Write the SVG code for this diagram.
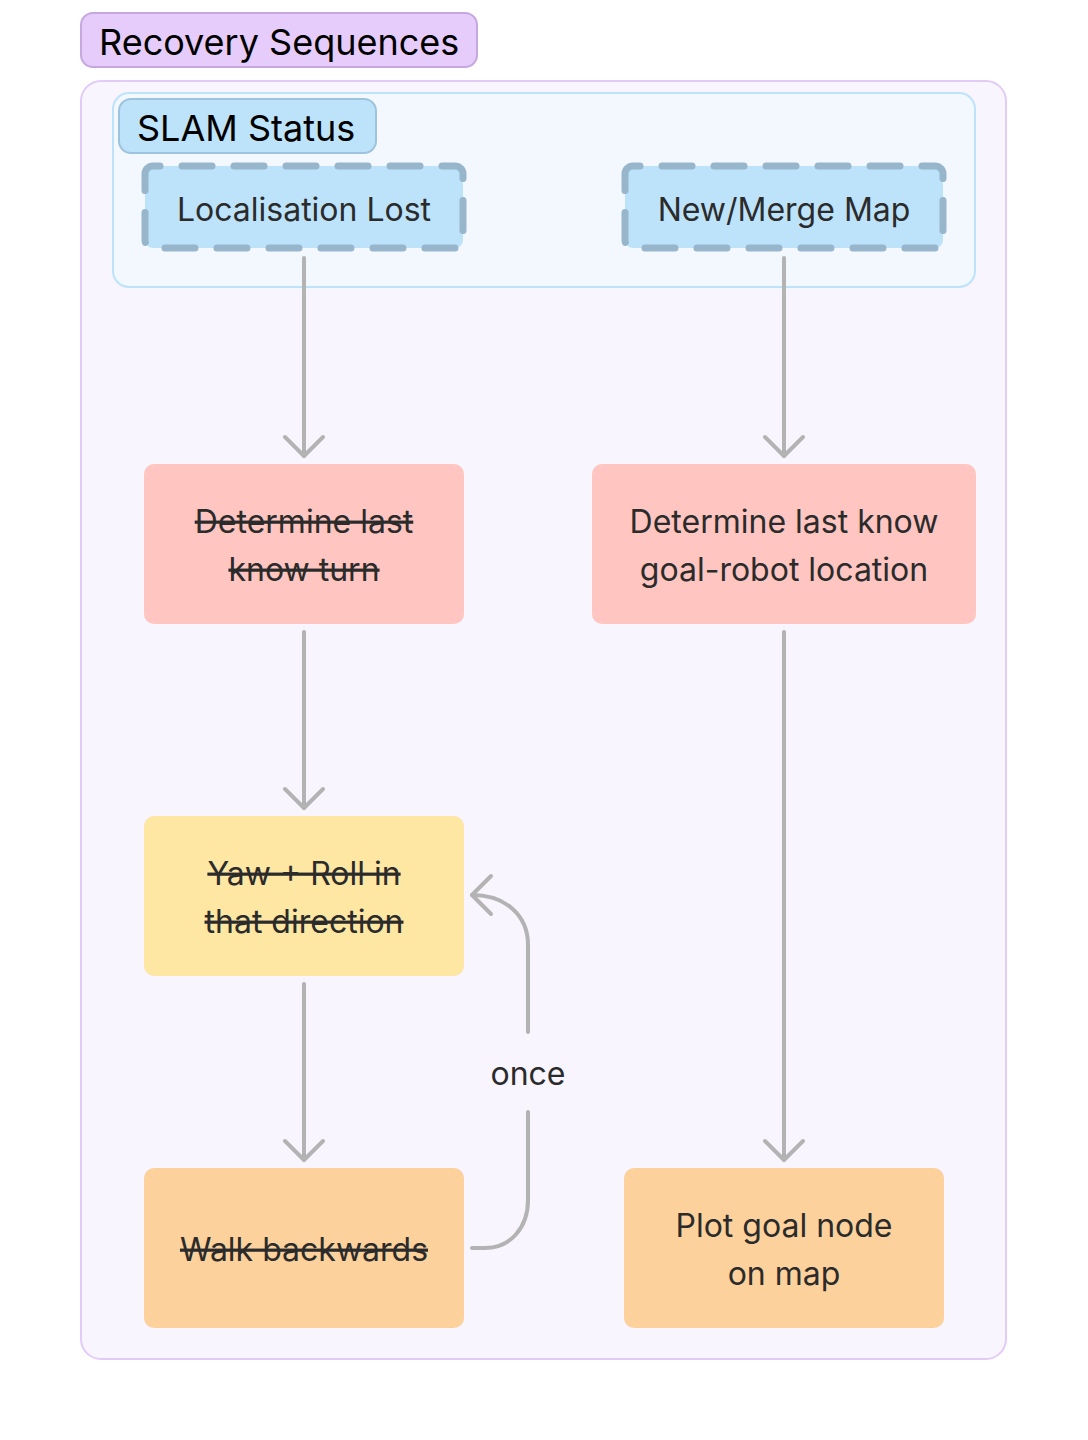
<svg xmlns="http://www.w3.org/2000/svg" width="1088" height="1440" viewBox="0 0 1088 1440">
<style>
.lbl{font-family:Inter,"Noto Sans","Liberation Sans",sans-serif;font-size:32px;fill:#2b2b2b;text-anchor:middle;dominant-baseline:central}
.strike{text-decoration:line-through}
.title{font-family:Inter,"Noto Sans","Liberation Sans",sans-serif;font-size:36px;fill:#000;dominant-baseline:central}
.edge{fill:none;stroke:#b3b3b3;stroke-width:4;stroke-linecap:round;stroke-linejoin:round}
.dash{fill:#bde3fb;stroke:#97b5cb;stroke-width:7;stroke-dasharray:30 22;stroke-dashoffset:23;stroke-linecap:round}
</style>
<defs>
<marker id="arr" viewBox="-22 -22 44 44" markerWidth="44" markerHeight="44" refX="0" refY="0" orient="auto" markerUnits="userSpaceOnUse">
<path d="M-19,-19 L0,0 L-19,19" fill="none" stroke="#b3b3b3" stroke-width="4" stroke-linecap="round" stroke-linejoin="round"/>
</marker>
</defs>
<rect width="1088" height="1440" fill="#ffffff"/>
<g id="recovery-sequences">
<rect x="81" y="81" width="925" height="1278" rx="20" fill="#f9f5fe" stroke="#e3cbf8" stroke-width="2"/>
<rect x="81" y="13" width="396" height="54" rx="12" fill="#e5ccfa" stroke="#c7a7df" stroke-width="2"/>
<text class="title" x="99" y="42">Recovery Sequences</text>
</g>
<g id="slam-status">
<rect x="113" y="93" width="862" height="194" rx="16" fill="#f2f8fe" stroke="#bde3fb" stroke-width="2"/>
<rect x="119" y="99" width="257" height="54" rx="12" fill="#bde3fb" stroke="#9ec3dc" stroke-width="2"/>
<text class="title" x="137" y="128">SLAM Status</text>
</g>
<g id="localisation-lost">
<rect class="dash" x="145" y="166" width="318" height="82" rx="8"/>
<text class="lbl" x="304" y="209">Localisation Lost</text>
</g>
<g id="new-merge-map">
<rect class="dash" x="625" y="166" width="318" height="82" rx="8"/>
<text class="lbl" x="784" y="209">New/Merge Map</text>
</g>
<g id="determine-turn">
<rect x="144" y="464" width="320" height="160" rx="10" fill="#fec5c1"/>
<text class="lbl strike" x="304" y="521">Determine last</text>
<text class="lbl strike" x="304" y="569">know turn</text>
</g>
<g id="determine-location">
<rect x="592" y="464" width="384" height="160" rx="10" fill="#fec5c1"/>
<text class="lbl" x="784" y="521">Determine last know</text>
<text class="lbl" x="784" y="569">goal-robot location</text>
</g>
<g id="yaw-roll">
<rect x="144" y="816" width="320" height="160" rx="10" fill="#fee6a3"/>
<text class="lbl strike" x="304" y="873">Yaw + Roll in</text>
<text class="lbl strike" x="304" y="921">that direction</text>
</g>
<g id="walk-backwards">
<rect x="144" y="1168" width="320" height="160" rx="10" fill="#fcd19c"/>
<text class="lbl strike" x="304" y="1249">Walk backwards</text>
</g>
<g id="plot-goal">
<rect x="624" y="1168" width="320" height="160" rx="10" fill="#fcd19c"/>
<text class="lbl" x="784" y="1225">Plot goal node</text>
<text class="lbl" x="784" y="1273">on map</text>
</g>
<g id="connectors">
<path class="edge" d="M304 258 L304 456" marker-end="url(#arr)"/>
<path class="edge" d="M784 258 L784 456" marker-end="url(#arr)"/>
<path class="edge" d="M304 632 L304 808" marker-end="url(#arr)"/>
<path class="edge" d="M304 984 L304 1160" marker-end="url(#arr)"/>
<path class="edge" d="M784 632 L784 1160" marker-end="url(#arr)"/>
<path class="edge" d="M472 1248 L485 1248 C510 1248 528 1228 528 1200 L528 1112"/>
<path class="edge" d="M528 1032 L528 945 C528 915 505 895 472 895" marker-end="url(#arr)"/>
<text class="lbl" x="528" y="1073">once</text>
</g>
</svg>
